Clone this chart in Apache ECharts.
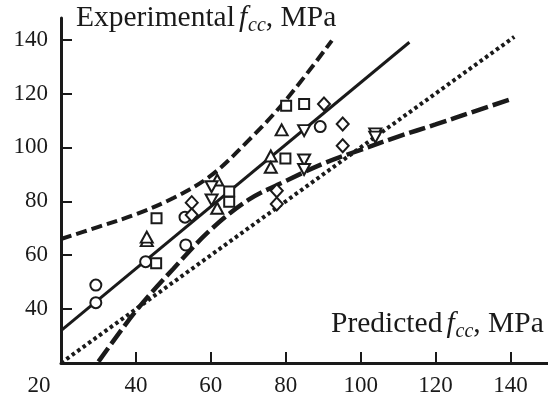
<!DOCTYPE html>
<html>
<head>
<meta charset="utf-8">
<script src="https://cdn.jsdelivr.net/npm/echarts@6/dist/echarts.min.js"></script>
<style>
  html, body { margin: 0; padding: 0; background: #fff; }
  #chart { width: 548px; height: 400px; }
</style>
</head>
<body>
<div id="chart"></div>
<script>
// tick labels
const xTicks = [20, 40, 60, 80, 100, 120, 140];
const yTicks = [40, 60, 80, 100, 120, 140];

// measured points (predicted, experimental)
const circles = [[29.3, 42.4], [29.3, 48.9], [42.6, 57.6], [53.3, 63.8], [53.1, 74.1], [89.2, 107.7]];
const squares = [[45.4, 57.0], [45.5, 73.7], [64.9, 79.8], [64.9, 83.6], [79.9, 95.9], [80.1, 115.4], [84.9, 116.1]];
const trianglesUp = [[42.9, 65.4], [42.9, 66.7], [61.7, 87.9], [61.7, 77.4], [76.0, 96.8], [76.0, 92.6], [78.9, 106.5]];
const trianglesDown = [[60.2, 85.4], [60.2, 80.5], [84.9, 95.3], [84.9, 91.8], [84.9, 106.2], [103.9, 105.0], [103.9, 103.8]];
const diamonds = [[54.9, 79.5], [54.9, 74.9], [77.6, 83.9], [77.6, 79.0], [95.2, 100.6], [90.2, 116.1], [95.2, 108.7]];

// fitted line, 1:1 line and the two bound curves
const fitLine = [[20, 32], [113, 139]];
const equalLine = [[20, 20], [141, 141]];
const upperCurve = [[20, 66], [30, 70.5], [40, 75.2], [50, 81.2], [60, 89.5], [70, 102.5], [80, 117.5], [92.3, 139.6]];
const lowerCurve = [[30, 20.5], [40, 39.3], [50, 55], [60, 69.5], [70, 80.5], [80, 87.5], [90, 94], [100, 99.1],
  [110, 104], [120, 108.5], [130, 113.2], [140.6, 118.1]];

const ink = '#1a1a1a';
const serif = '"Liberation Serif", "Times New Roman", serif';

const chart = echarts.init(document.getElementById('chart'));

function marker(name, data, symbol, size, rotate) {
  return {
    name: name,
    type: 'scatter',
    data: data,
    symbol: symbol,
    symbolSize: size,
    symbolRotate: rotate || 0,
    z: 5,
    itemStyle: { color: '#fff', borderColor: ink, borderWidth: 2, opacity: 1 },
    emphasis: { disabled: true }
  };
}

function line(data, width, dash, smooth) {
  return {
    type: 'line',
    data: data,
    symbol: 'none',
    smooth: smooth ? 0.35 : false,
    z: 2,
    lineStyle: { color: ink, width: width, type: dash, cap: 'butt' },
    emphasis: { disabled: true }
  };
}

const titleRich = {
  n: { fontFamily: serif, fontSize: 29.5, fontWeight: 'normal', color: ink },
  i: { fontFamily: serif, fontSize: 29.5, fontWeight: 'normal', fontStyle: 'italic', color: ink, padding: [0, 1, 0, 4] },
  s: { fontFamily: serif, fontSize: 20, fontWeight: 'normal', fontStyle: 'italic', color: ink, padding: [15, 0, 0, 0] }
};

const option = {
  animation: false,
  backgroundColor: '#fff',
  title: [
    {
      text: '{n|Experimental}{i|f}{s|cc}{n|, MPa}',
      left: 76, top: 1, padding: 0,
      textStyle: { fontWeight: 'normal', rich: titleRich }
    },
    {
      text: '{n|Predicted}{i|f}{s|cc}{n|, MPa}',
      left: 331, top: 307, padding: 0,
      textStyle: { fontWeight: 'normal', rich: titleRich }
    }
  ],
  grid: { left: 61, right: 0, top: 18, bottom: 37 },
  xAxis: {
    type: 'value',
    min: 20, max: 150, interval: 20,
    splitLine: { show: false },
    axisLine: { onZero: false, lineStyle: { color: ink, width: 3 } },
    axisTick: { inside: true, length: 11, lineStyle: { color: ink, width: 2 }, customValues: xTicks.slice(1) },
    axisLabel: {
      customValues: xTicks,
      margin: 11,
      fontFamily: serif, fontSize: 23, color: ink,
      formatter: v => (v === 20 ? '{l|20}' : String(v)),
      rich: { l: { fontFamily: serif, fontSize: 23, color: ink, padding: [0, 44, 0, 0] } }
    }
  },
  yAxis: {
    type: 'value',
    min: 20, max: 148, interval: 20,
    splitLine: { show: false },
    axisLine: { onZero: false, lineStyle: { color: ink, width: 3 } },
    axisTick: { inside: true, length: 11, lineStyle: { color: ink, width: 2 }, customValues: yTicks },
    axisLabel: { customValues: yTicks, margin: 13, fontFamily: serif, fontSize: 23, color: ink }
  },
  series: [
    line(equalLine, 4, [3.5, 3.2], false),
    line(fitLine, 3, 'solid', false),
    line(upperCurve, 4, [11, 5], true),
    line(lowerCurve, 4.5, [17, 5], true),
    marker('circle', circles, 'circle', 11),
    marker('square', squares, 'rect', 10),
    marker('up', trianglesUp, 'triangle', [12, 11]),
    marker('down', trianglesDown, 'triangle', [12, 11], 180),
    marker('diamond', diamonds, 'diamond', [12, 13])
  ]
};

chart.setOption(option);
</script>
</body>
</html>
